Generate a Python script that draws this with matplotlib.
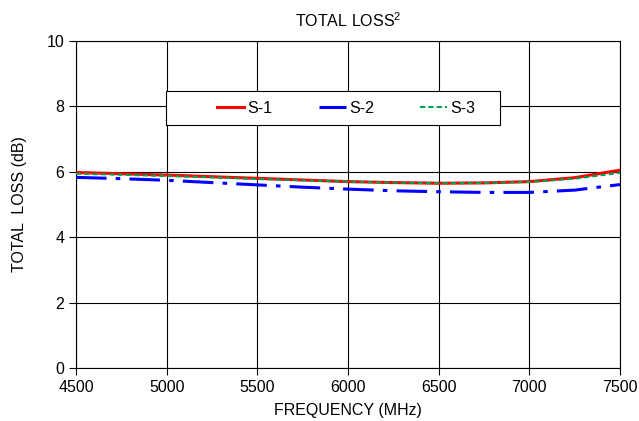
import numpy as np
import matplotlib
matplotlib.use("Agg")
import matplotlib.pyplot as plt
from matplotlib.patches import Rectangle

plt.rcParams['font.family'] = ['Liberation Sans', 'DejaVu Sans']
plt.rcParams['mathtext.fontset'] = 'custom'
plt.rcParams['mathtext.rm'] = 'Liberation Sans'
plt.rcParams['mathtext.default'] = 'regular'

# frequency points (MHz)
freq = [4500, 4750, 5000, 5250, 5500, 5750, 6000, 6250, 6500, 6750, 7000, 7250, 7500]

# total loss (dB)
s1 = [5.98, 5.94, 5.90, 5.85, 5.80, 5.75, 5.70, 5.67, 5.65, 5.66, 5.70, 5.82, 6.05]
s2 = [5.83, 5.79, 5.74, 5.67, 5.60, 5.53, 5.47, 5.42, 5.39, 5.37, 5.37, 5.44, 5.61]
s3 = [5.94, 5.91, 5.87, 5.83, 5.78, 5.74, 5.70, 5.67, 5.65, 5.66, 5.69, 5.79, 5.97]

labels = ["S-1", "S-2", "S-3"]

fig = plt.figure(figsize=(6.39, 4.21), dpi=100)
ax = fig.add_axes([76 / 639, 1 - 368 / 421, 544 / 639, 327 / 421])

ax.plot(freq, s1, color="#ff0000", lw=2.2, label=labels[0], zorder=3)
ax.plot(freq, s2, color="#0000ff", lw=2.2, ls=(0, (10, 3, 1.5, 3)), label=labels[1], zorder=3)
ax.plot(freq, s3, color="#00a050", lw=1.5, ls=(0, (2.5, 1.5)), label=labels[2], zorder=4)

ax.set_xlim(4500, 7500)
ax.set_ylim(0, 10)
ax.set_xticks(np.arange(4500, 7501, 500))
ax.set_yticks(np.arange(0, 11, 2))
ax.grid(True, color="black", lw=0.8)
ax.set_axisbelow(True)
for sp in ax.spines.values():
    sp.set_color("black")
    sp.set_linewidth(0.8)
ax.tick_params(labelsize=11.5, direction="out", length=5, width=0.8, colors="black")

ax.set_xlabel("FREQUENCY (MHz)", fontsize=11.5, labelpad=6)
ax.set_ylabel("TOTAL  LOSS (dB)", fontsize=11.5, labelpad=14)
ax.set_title("TOTAL LOSS$^{2}$", fontsize=11.5, pad=10)

# legend frame (fixed box like the original)
box = Rectangle((0.165, 0.743), 0.614, 0.104, transform=ax.transAxes,
                facecolor="white", edgecolor="black", lw=0.8, zorder=5)
ax.add_patch(box)

leg = ax.legend(
    loc="center",
    bbox_to_anchor=(0.165 + 0.614 / 2 + 0.025, 0.743 + 0.104 / 2),
    ncol=3,
    fontsize=11.5,
    frameon=False,
    handlelength=1.7,
    handletextpad=0.2,
    columnspacing=2.9,
    borderaxespad=0,
)
leg.set_zorder(6)

fig.savefig("out.png", dpi=100)
